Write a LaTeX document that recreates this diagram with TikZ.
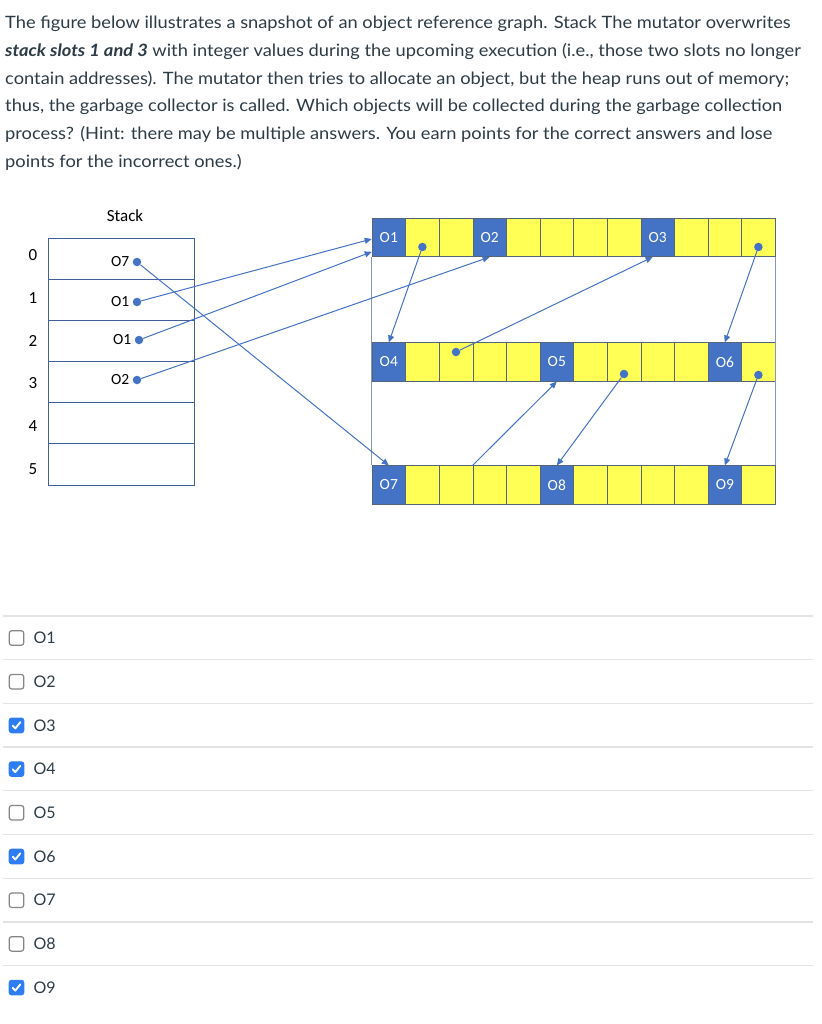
\documentclass[tikz,border=0pt]{standalone}
\usepackage{fontspec}
\setmainfont{Lato}
\newfontfamily\askfont[FakeStretch=1.075]{Lato}
\newfontfamily\figfont{Carlito}
\usetikzlibrary{arrows.meta,positioning,calc}
\definecolor{objblue}{HTML}{4472C4}
\definecolor{slotyellow}{HTML}{FFFF55}
\definecolor{cellline}{HTML}{56657E}
\definecolor{stackline}{HTML}{41609A}
\definecolor{framegray}{HTML}{8497BE}
\definecolor{inkgray}{HTML}{2D3B45}
\definecolor{tickblue}{HTML}{2F7DF3}
\definecolor{boxgray}{HTML}{858585}
\definecolor{rulegray}{HTML}{E3E3E3}

\begin{document}
\begin{tikzpicture}[
            x=1pt,
            y=-1pt,
            question/.style={
                    anchor=north west,
                    inner sep=0pt,
                    align=left,
                    text=inkgray,
                    font=\askfont\fontsize{17}{27.7}\selectfont
                },
            slot/.style={
                    draw=stackline,
                    line width=0.8pt,
                    minimum width=146pt,
                    minimum height=41.2pt,
                    inner sep=0pt
                },
            idx/.style={
                    font=\figfont\fontsize{17}{18}\selectfont
                },
            entry/.style={
                    inner sep=1pt,
                    font=\figfont\fontsize{15.5}{18}\selectfont
                },
            cell/.style={
                    draw=cellline,
                    line width=0.6pt,
                    fill=slotyellow,
                    minimum width=33.6pt,
                    minimum height=38.5pt,
                    inner sep=0pt
                },
            obj/.style={
                    cell,
                    fill=objblue,
                    text=white,
                    font=\figfont\fontsize{15.5}{18}\selectfont
                },
            ptr/.style={
                    circle,
                    fill=objblue,
                    minimum size=8.5pt,
                    inner sep=0pt
                },
            ref/.style={
                    draw=objblue,
                    line width=1pt,
                    -{Triangle[length=7pt,width=6pt]}
                },
            frame/.style={
                    draw=framegray,
                    line width=0.8pt
                },
            cbox/.style={
                    rounded corners=2.5pt,
                    line width=1.2pt,
                    minimum size=14.5pt,
                    inner sep=0pt
                },
            opt/.style={
                    inner sep=0pt,
                    text=inkgray,
                    font=\fontsize{16}{18}\selectfont
                },
            tick/.style={
                    draw=white,
                    line width=1.9pt,
                    line cap=round,
                    line join=round
                },
            rule/.style={
                    draw=rulegray,
                    line width=1.3pt
                }
        ]

        \useasboundingbox (0,0) rectangle (821,1024);

        \node[question] (q) at (5,16) {The figure below illustrates a snapshot of an object reference graph. Stack The mutator overwrites\\
            \textbf{\textit{stack slots 1 and 3}} with integer values during the upcoming execution (i.e., those two slots no longer\\
            contain addresses). The mutator then tries to allocate an object, but the heap runs out of memory;\\
            thus, the garbage collector is called. Which objects will be collected during the garbage collection\\
            process? (Hint: there may be multiple answers. You earn points for the correct answers and lose\\
            points for the incorrect ones.)};

        \node[idx] (stacktitle) at (125,216) {Stack};
        \foreach \r in {0,...,5} {
                \node[slot] (s\r) at (121,258.6+41.17*\r) {};
                \node[idx] (i\r) at (33,255+42.8*\r) {\r};
            }

        \node[ptr] (d0) at (137,262) {};
        \node[ptr] (d1) at (137,302) {};
        \node[ptr] (d2) at (139,340) {};
        \node[ptr] (d3) at (137,380) {};
        \node[entry, left=2pt of d0] (v0) {O7};
        \node[entry, left=2pt of d1] (v1) {O1};
        \node[entry, left=2pt of d2] (v2) {O1};
        \node[entry, left=2pt of d3] (v3) {O2};

        \foreach \row/\y in {t/237.5, m/362, b/485}
        \foreach \i in {0,...,11}
        \node[cell] (\row\i) at (388.8+33.6*\i,\y) {};

        \draw[frame] (t0.south west) -- (b0.north west);
        \draw[frame] (t11.south east) -- (b11.north east);

        \foreach \c/\lbl in {t0/O1, t3/O2, t8/O3, m0/O4, m5/O5, m10/O6, b0/O7, b5/O8, b10/O9}
        \node[obj] (\lbl) at (\c) {\lbl};

        \node[ptr] (p1) at ([shift={(0,9.5)}]t1.center) {};
        \node[ptr] (p2) at ([shift={(0,-10)}]m2.center) {};
        \node[ptr] (p3) at ([shift={(0,9.5)}]t11.center) {};
        \node[ptr] (p4) at ([shift={(0,12)}]m7.center) {};
        \node[ptr] (p5) at ([shift={(0,13)}]m11.center) {};

        \draw[ref] (d0) -- (O7.north);
        \draw[ref] (d1) -- (O1.185);
        \draw[ref] (d2) -- (O1.220);
        \draw[ref] (d3) -- (O2.south);
        \draw[ref] (p1) -- (O4.north);
        \draw[ref] (p2) -- ([xshift=-5pt]O3.south);
        \draw[ref] (p3) -- (O6.north);
        \draw[ref] (b3.north west) -- (O5.south);
        \draw[ref] (p4) -- (O8.north);
        \draw[ref] (p5) -- (O9.north);

        \foreach \k in {0,...,8}
        \draw[rule] (3,616+43.7*\k) -- (813,616+43.7*\k);

        \foreach \n/\fc/\dc [count=\k from 0] in {1/white/boxgray, 2/white/boxgray, 3/tickblue/tickblue, 4/tickblue/tickblue, 5/white/boxgray, 6/tickblue/tickblue, 7/white/boxgray, 8/white/boxgray, 9/tickblue/tickblue} {
                \node[cbox, fill=\fc, draw=\dc] (c\n) at (16.5,638+43.7*\k) {};
                \node[opt, right=9pt of c\n] (l\n) {O\n};
            }
        \foreach \n in {3,4,6,9}
        \draw[tick] ([shift={(-3.8,0.2)}]c\n.center) -- ++(2.6,2.8) -- ++(5,-6.2);

    \end{tikzpicture}
\end{document}
